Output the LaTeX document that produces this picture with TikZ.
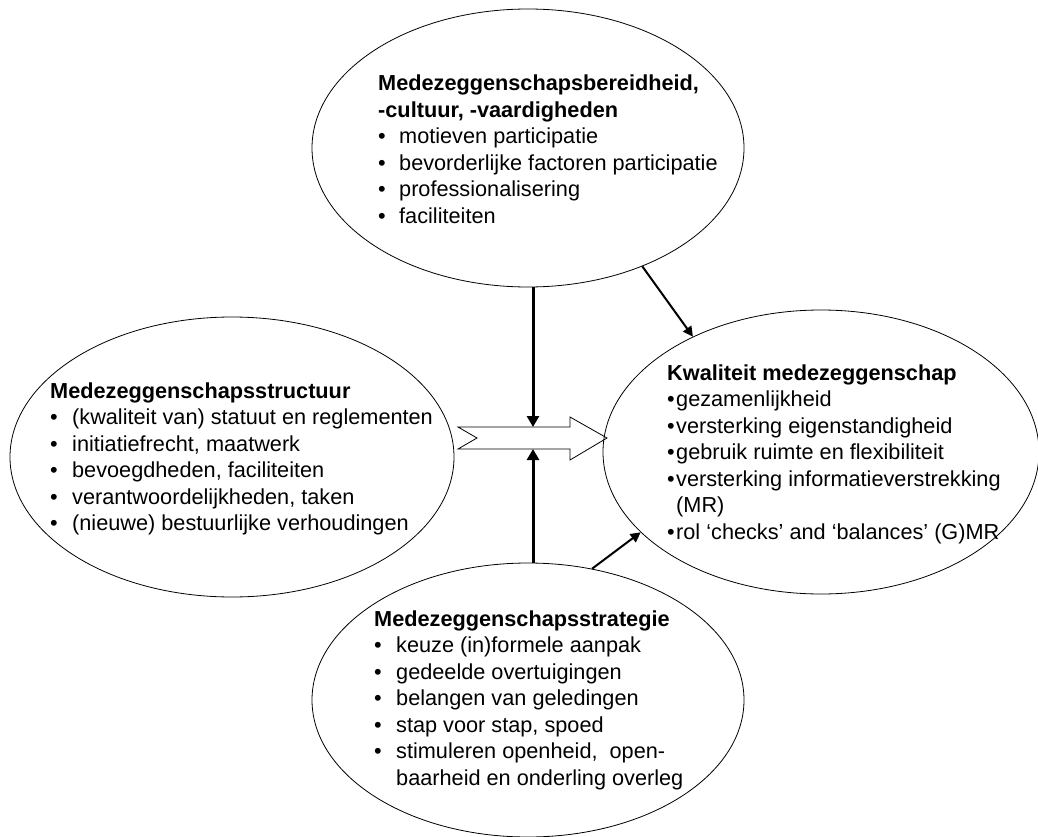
\documentclass[tikz,border=0pt]{standalone}
\usepackage{fontspec}
\setmainfont{Liberation Sans}
\usetikzlibrary{shapes.geometric,arrows.meta}
\newcommand{\blok}[1]{\begin{tabular}[t]{@{}l@{}}#1\end{tabular}}
\newcommand{\bul}[1]{\makebox[#1][l]{\textbullet}}

\begin{document}
\begin{tikzpicture}[x=1pt,y=-1pt,
  bol/.style={ellipse,draw,line width=0.8pt,inner sep=0pt},
  tekst/.style={anchor=base west,inner sep=0pt,font=\fontsize{21.7}{26.5}\selectfont},
  dik/.style={line width=3pt,-{Triangle[length=11pt,width=12pt]}},
  dun/.style={line width=2pt,-{Triangle[length=10pt,width=10pt]}}]
\useasboundingbox (0,0) rectangle (1038,837);
% de vier ellipsen
\node[bol,minimum width=432pt,minimum height=278pt] (boven) at (528,148) {};
\node[bol,minimum width=444pt,minimum height=280pt] (links) at (232,457) {};
\node[bol,minimum width=436pt,minimum height=284pt] (kwal) at (821,452) {};
\node[bol,minimum width=432pt,minimum height=274pt] (onder) at (528,700) {};
% teksten
\node[tekst] (tboven) at (378,91) {\blok{\textbf{Medezeggenschapsbereidheid,}\\
  \textbf{-cultuur, -vaardigheden}\\
  \bul{21pt}motieven participatie\\
  \bul{21pt}bevorderlijke factoren participatie\\
  \bul{21pt}professionalisering\\
  \bul{21pt}faciliteiten}};
\node[tekst] (tlinks) at (50,398) {\blok{\textbf{Medezeggenschapsstructuur}\\
  \bul{22pt}(kwaliteit van) statuut en reglementen\\
  \bul{22pt}initiatiefrecht, maatwerk\\
  \bul{22pt}bevoegdheden, faciliteiten\\
  \bul{22pt}verantwoordelijkheden, taken\\
  \bul{22pt}(nieuwe) bestuurlijke verhoudingen}};
\node[tekst] (tkwal) at (667,380) {\blok{\textbf{Kwaliteit medezeggenschap}\\
  \bul{9pt}gezamenlijkheid\\
  \bul{9pt}versterking eigenstandigheid\\
  \bul{9pt}gebruik ruimte en flexibiliteit\\
  \bul{9pt}versterking informatieverstrekking\\
  \hspace*{9pt}(MR)\\
  \bul{9pt}rol ‘checks’ and ‘balances’ (G)MR}};
\node[tekst] (tonder) at (374,626) {\blok{\textbf{Medezeggenschapsstrategie}\\
  \bul{22pt}keuze (in)formele aanpak\\
  \bul{22pt}gedeelde overtuigingen\\
  \bul{22pt}belangen van geledingen\\
  \bul{22pt}stap voor stap, spoed\\
  \bul{22pt}stimuleren openheid,\ \ open-\\
  \hspace*{22pt}baarheid en onderling overleg}};
% blokpijl naar rechts
\coordinate (pijlboven) at (533,427);
\coordinate (pijlonder) at (533,449);
\draw[line width=0.8pt] (458,427) -- (570,427) -- (570,417) -- (607,438) -- (570,460)
  -- (570,449) -- (458,449) -- (477,438) -- cycle;
% pijlen
\draw[dik] (boven.south -| pijlboven) -- (pijlboven);
\draw[dik] (onder.north -| pijlonder) -- (pijlonder);
\draw[dun] (boven.-46) -- (kwal.138);
\draw[dun] (onder.64) -- (kwal.204);
\end{tikzpicture}
\end{document}
